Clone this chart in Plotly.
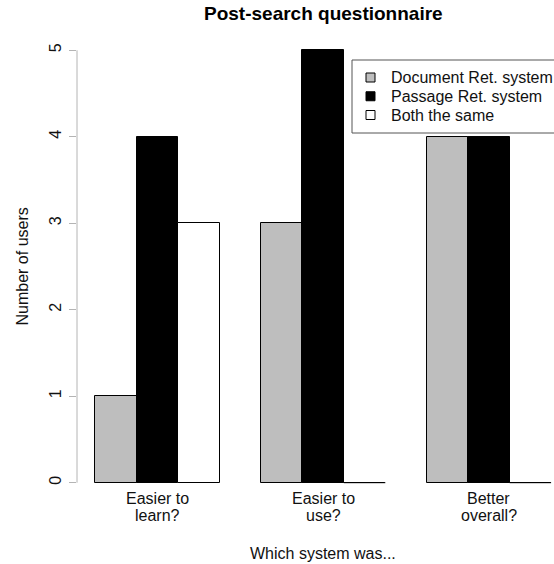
import plotly.graph_objects as go

# Survey answers: one group of bars per question, one bar per system choice
questions = ["Easier to\nlearn?", "Easier to\nuse?", "Better\noverall?"]
series_names = ["Document Ret. system", "Passage Ret. system", "Both the same"]
doc_ret = [1, 3, 4]
passage_ret = [4, 5, 4]
both_same = [3, 0, 0]
series_values = [doc_ret, passage_ret, both_same]
fill_colors = ["#bebebe", "#000000", "#ffffff"]
y_ticks = [0, 1, 2, 3, 4, 5]

FONT = "Liberation Sans, Arial, Helvetica, sans-serif"
TEXT = "#111111"
AXIS_GREY = "#b4b4b4"

W, H = 554, 564
M_L, M_R, M_T, M_B = 77, 0, 33, 64


def px_to_paper(px, py):
    """Pixel position on the page -> paper coordinates of the plot area."""
    return ((px - M_L) / (W - M_L - M_R), (H - M_B - py) / (H - M_T - M_B))


# grouped layout: bars of width 1, one bar-width gap before each group
n_series = len(series_names)
group_start = [1 + g * (n_series + 1) for g in range(len(questions))]
group_centre = [s + n_series / 2 for s in group_start]

fig = go.Figure()
for k, (name, vals, col) in enumerate(zip(series_names, series_values, fill_colors)):
    xs = [s + k + 0.5 for s in group_start]
    fig.add_trace(go.Bar(
        x=xs, y=vals, width=1, name=name, showlegend=False,
        marker=dict(color=col, line=dict(color="#000000", width=1)),
        hoverinfo="skip",
    ))
    # zero-height bars still show their outline as a flat line on the baseline
    seg_x, seg_y = [], []
    for x, v in zip(xs, vals):
        if v == 0:
            seg_x += [x - 0.5, x + 0.5, None]
            seg_y += [v, v, None]
    if seg_x:
        fig.add_trace(go.Scatter(
            x=seg_x, y=seg_y, mode="lines", showlegend=False,
            line=dict(color="#000000", width=1), hoverinfo="skip",
        ))

annotations = []
shapes = [dict(type="line", xref="paper", yref="y", x0=0, x1=0,
               y0=y_ticks[0], y1=y_ticks[-1],
               line=dict(color=AXIS_GREY, width=1))]

# category labels under each group, one line each
for cx, label in zip(group_centre, questions):
    for i, line in enumerate(label.split("\n")):
        annotations.append(dict(
            x=cx, xref="x", y=0, yref="paper", yanchor="middle",
            yshift=2 - 17 * i, text=line, showarrow=False,
            font=dict(family=FONT, size=16, color=TEXT),
        ))

mid_x = (group_start[0] + group_start[-1] + n_series) / 2
annotations += [
    dict(x=mid_x, xref="x", y=0, yref="paper", yanchor="middle", yshift=-53,
         text="Which system was...", showarrow=False,
         font=dict(family=FONT, size=16, color=TEXT)),
    dict(x=mid_x, xref="x", y=1, yref="paper", yanchor="middle", yshift=20,
         text="<b>Post-search questionnaire</b>", showarrow=False,
         font=dict(family=FONT, size=19, color="#000000")),
    dict(x=0, xref="paper", y=(y_ticks[0] + y_ticks[-1]) / 2, yref="y",
         xanchor="center", yanchor="middle", xshift=-55, textangle=-90,
         text="Number of users", showarrow=False,
         font=dict(family=FONT, size=16, color=TEXT)),
]

# legend box in the top-right corner (runs off the right edge of the page)
bx0, by0 = px_to_paper(352, 60)
bx1, by1 = px_to_paper(572, 133)
shapes.append(dict(type="rect", xref="paper", yref="paper",
                   x0=bx0, x1=bx1, y0=by1, y1=by0,
                   line=dict(color="#555555", width=1), fillcolor="white",
                   layer="above"))
for i, (name, col) in enumerate(zip(series_names, fill_colors)):
    row_y = 77.5 + 18.75 * i
    sx0, sy0 = px_to_paper(366, row_y - 4.5)
    sx1, sy1 = px_to_paper(375, row_y + 4.5)
    shapes.append(dict(type="rect", xref="paper", yref="paper",
                       x0=sx0, x1=sx1, y0=sy1, y1=sy0,
                       line=dict(color="#000000", width=1), fillcolor=col,
                       layer="above"))
    tx, ty = px_to_paper(389, row_y)
    annotations.append(dict(x=tx, y=ty, xref="paper", yref="paper",
                            xanchor="left", yanchor="middle", text=name,
                            showarrow=False,
                            font=dict(family=FONT, size=16, color=TEXT)))

fig.update_layout(
    width=W, height=H,
    margin=dict(l=M_L, r=M_R, t=M_T, b=M_B, autoexpand=False),
    paper_bgcolor="white", plot_bgcolor="white",
    barmode="overlay", bargap=0,
    showlegend=False,
    annotations=annotations,
    shapes=shapes,
    xaxis=dict(range=[0.56, 12.07], showticklabels=False, showgrid=False,
               zeroline=False, showline=False, ticks=""),
    yaxis=dict(range=[-0.2, 5.2], tickvals=y_ticks, ticks="outside", ticklen=7,
               tickcolor=AXIS_GREY, tickangle=-90, showgrid=False, zeroline=False,
               showline=False, ticklabelstandoff=2,
               tickfont=dict(family=FONT, size=16, color=TEXT)),
)

fig.write_html("out.html")
